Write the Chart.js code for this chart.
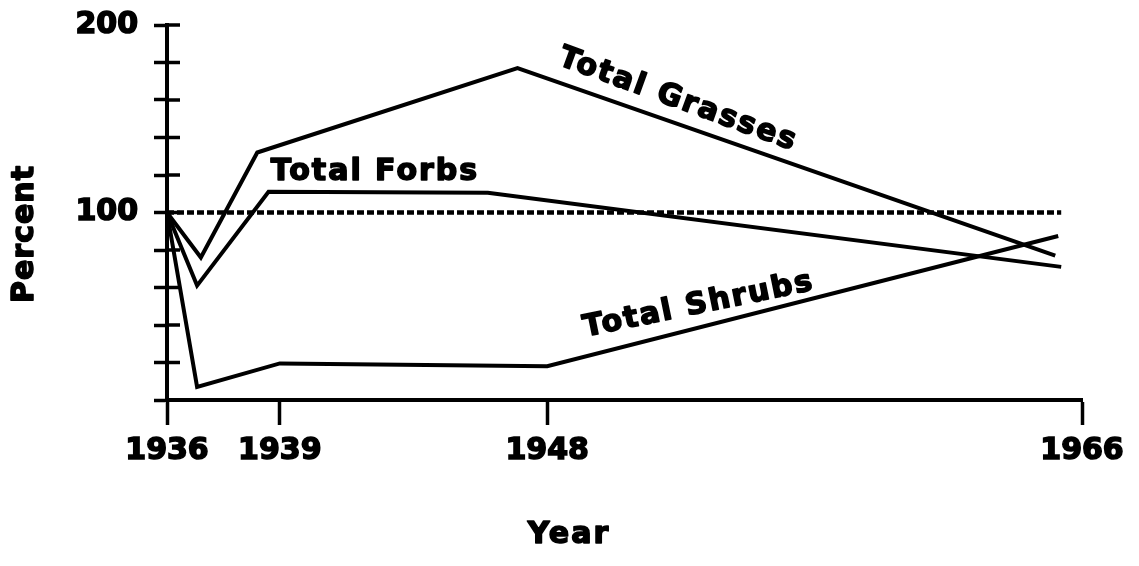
<!DOCTYPE html>
<html>
<head>
<meta charset="utf-8">
<script src="https://cdn.jsdelivr.net/npm/chart.js@4.4.1/dist/chart.umd.min.js"></script>
<style>
  html, body { margin: 0; padding: 0; background: #fff; }
  #wrap { width: 1139px; height: 566px; }
</style>
</head>
<body>
<div id="wrap"><canvas id="grafico" width="1139" height="566"></canvas></div>
<script>
// valores (percentual em relação a 1936)
const tickYears = [1936, 1939, 1948, 1966];
const percentLabels = [100, 200];

const grassYears = [1936, 1936.9, 1938.4, 1947, 1965.1];
const grassValues = [100, 76, 132, 177, 77];

const forbYears = [1936, 1936.8, 1938.7, 1946, 1965.3];
const forbValues = [100, 61, 111, 110.5, 71];

const shrubYears = [1936, 1936.8, 1939, 1948, 1965.2];
const shrubValues = [100, 7, 19.5, 18, 87.5];

const baseYears = [1936, 1965.3];
const baseValues = [100, 100];

const toPoints = (xs, ys) => xs.map((v, i) => ({ x: v, y: ys[i] }));

// o eixo do original é mais esticado entre 1936 e 1939
const BREAK_YEAR = 1939;
const STRETCH = 1.266;

class StretchedYearScale extends Chart.LinearScale {
  warp(v) {
    return v <= BREAK_YEAR ? BREAK_YEAR - (BREAK_YEAR - v) * STRETCH : v;
  }
  unwarp(u) {
    return u <= BREAK_YEAR ? BREAK_YEAR - (BREAK_YEAR - u) / STRETCH : u;
  }
  getPixelForValue(value) {
    const lo = this.warp(this.min), hi = this.warp(this.max);
    return this.getPixelForDecimal((this.warp(value) - lo) / (hi - lo));
  }
  getValueForPixel(pixel) {
    const lo = this.warp(this.min), hi = this.warp(this.max);
    return this.unwarp(lo + this.getDecimalForPixel(pixel) * (hi - lo));
  }
}
StretchedYearScale.id = 'stretchedYear';
StretchedYearScale.defaults = Chart.LinearScale.defaults;
Chart.register(StretchedYearScale);

const seriesLabels = [
  { text: 'Total Grasses', year: 1952.4, value: 160, angle: 20 },
  { text: 'Total Forbs', year: 1942.2, value: 121.5, angle: 0 },
  { text: 'Total Shrubs', year: 1953.1, value: 50.5, angle: -11.6 }
];

const FONT = 'bold 30px "DejaVu Sans"';

function boldText(ctx, text, x, y) {
  ctx.strokeText(text, x, y);
  ctx.fillText(text, x, y);
}

const rotulos = {
  id: 'rotulos',
  afterDraw(chart) {
    const { ctx, chartArea, scales: { x, y } } = chart;
    ctx.save();
    // metade interna dos traços do eixo Y
    ctx.strokeStyle = '#000';
    ctx.lineWidth = 3.5;
    y.ticks.forEach((t, i) => {
      const py = y.getPixelForTick(i);
      ctx.beginPath();
      ctx.moveTo(chartArea.left, py);
      ctx.lineTo(chartArea.left + 13, py);
      ctx.stroke();
    });

    ctx.fillStyle = '#000';
    ctx.lineWidth = 1.6;
    ctx.lineJoin = 'round';
    ctx.textAlign = 'center';
    ctx.textBaseline = 'middle';
    ctx.font = FONT;
    ctx.letterSpacing = '2px';
    seriesLabels.forEach(l => {
      ctx.save();
      ctx.translate(x.getPixelForValue(l.year), y.getPixelForValue(l.value));
      ctx.rotate(l.angle * Math.PI / 180);
      boldText(ctx, l.text, 0, 0);
      ctx.restore();
    });

    // títulos dos eixos
    boldText(ctx, 'Year', 569, 535);
    ctx.letterSpacing = '1px';
    ctx.save();
    ctx.translate(25, 234);
    ctx.rotate(-Math.PI / 2);
    boldText(ctx, 'Percent', 0, 0);
    ctx.restore();
    ctx.restore();
  }
};

const lineStyle = {
  borderColor: '#000',
  borderWidth: 4,
  pointRadius: 0,
  tension: 0,
  fill: false,
  clip: false
};

const tickFont = { family: 'DejaVu Sans', size: 30, weight: 'bold' };

new Chart(document.getElementById('grafico').getContext('2d'), {
  type: 'line',
  data: {
    datasets: [
      { label: 'Total Grasses', data: toPoints(grassYears, grassValues), ...lineStyle },
      { label: 'Total Forbs', data: toPoints(forbYears, forbValues), ...lineStyle },
      { label: 'Total Shrubs', data: toPoints(shrubYears, shrubValues), ...lineStyle },
      { label: '1936', data: toPoints(baseYears, baseValues), ...lineStyle, borderWidth: 4.5, borderDash: [7, 3] }
    ]
  },
  options: {
    responsive: false,
    animation: false,
    events: [],
    layout: { padding: { top: 25, right: 57, bottom: 0, left: 0 } },
    plugins: { legend: { display: false }, tooltip: { enabled: false } },
    scales: {
      x: {
        type: 'stretchedYear',
        min: 1936,
        max: 1966,
        afterFit: s => { s.height = 166; s.paddingLeft = 0; s.paddingRight = 0; },
        afterBuildTicks: s => { s.ticks = tickYears.map(v => ({ value: v })); },
        grid: { drawOnChartArea: false, tickLength: 25, tickWidth: 3.5, tickColor: '#000' },
        border: { color: '#000', width: 4 },
        ticks: {
          padding: 8,
          color: '#000',
          textStrokeColor: '#000',
          textStrokeWidth: 1.6,
          maxRotation: 0,
          autoSkip: false,
          font: tickFont,
          callback: v => String(v)
        }
      },
      y: {
        min: 0,
        max: 200,
        afterFit: s => { s.width = 167; s.paddingTop = 0; s.paddingBottom = 0; },
        grid: { drawOnChartArea: false, tickLength: 13, tickWidth: 3.5, tickColor: '#000' },
        border: { color: '#000', width: 4 },
        ticks: {
          stepSize: 20,
          autoSkip: false,
          padding: 16,
          color: '#000',
          textStrokeColor: '#000',
          textStrokeWidth: 1.6,
          font: tickFont,
          callback: v => percentLabels.includes(v) ? String(v) : ''
        }
      }
    }
  },
  plugins: [rotulos]
});
</script>
</body>
</html>
